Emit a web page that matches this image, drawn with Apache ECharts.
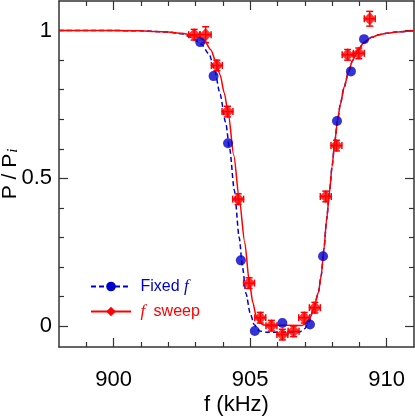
<!DOCTYPE html>
<html><head><meta charset="utf-8">
<script src="https://cdn.jsdelivr.net/npm/echarts@6/dist/echarts.min.js"></script>
<style>html,body{margin:0;padding:0;background:#fff}#c{width:415px;height:418px}</style>
</head><body><div id="c"></div>
<script>
// ---- tick values ----
const xMajorTicks = [900, 905, 910];
const xMinorTicks = [899, 901, 902, 903, 904, 906, 907, 908, 909];
const yMajorTicks = [0, 0.5, 1];
const yMinorTicks = [0.1, 0.2, 0.3, 0.4, 0.6, 0.7, 0.8, 0.9];

// ---- Fixed f data points ----
const fixedF = [903.17, 903.66, 904.19, 904.66, 905.17, 906.18, 907.19, 907.67, 908.18, 908.69, 909.17];
const fixedP = [0.961, 0.846, 0.619, 0.223, -0.016, 0.011, 0.006, 0.237, 0.694, 0.862, 0.971];

// ---- f sweep data points (with error bars) ----
const sweepF = [902.95, 903.37, 903.78, 904.17, 904.56, 904.96, 905.37, 905.78, 906.18, 906.59, 906.98, 907.37, 907.77, 908.16, 908.57, 908.98, 909.38];
const sweepP = [0.986, 0.986, 0.882, 0.726, 0.430, 0.146, 0.029, 0.002, -0.028, -0.017, 0.029, 0.063, 0.439, 0.611, 0.918, 0.923, 1.040];
const sweepFErr = [0.2, 0.2, 0.2, 0.2, 0.2, 0.2, 0.2, 0.2, 0.2, 0.2, 0.2, 0.2, 0.2, 0.2, 0.2, 0.2, 0.2];
const sweepPErr = [0.018, 0.027, 0.018, 0.018, 0.018, 0.018, 0.018, 0.018, 0.018, 0.018, 0.018, 0.018, 0.018, 0.018, 0.018, 0.018, 0.025];

// ---- fit curves ----
const fixedCurveF = [898, 900, 901, 902, 902.5, 902.85, 903.2, 903.5, 903.7, 903.9, 904.1, 904.25, 904.42, 904.6, 904.72, 904.85, 905.0, 905.15, 905.35, 905.6, 906.8, 907.0, 907.15, 907.34, 907.5, 907.6, 907.7, 907.8, 907.9, 908.0, 908.1, 908.2, 908.3, 908.44, 908.6, 908.75, 908.95, 909.17, 909.45, 909.72, 910.0, 910.33, 911];
const fixedCurveP = [1.0, 1.0, 0.999, 0.995, 0.989, 0.977, 0.955, 0.92, 0.865, 0.785, 0.69, 0.6, 0.46, 0.3, 0.2, 0.11, 0.045, 0.005, -0.016, -0.02, -0.02, -0.008, 0.015, 0.065, 0.115, 0.17, 0.26, 0.36, 0.45, 0.54, 0.625, 0.695, 0.75, 0.808, 0.86, 0.899, 0.935, 0.96, 0.977, 0.986, 0.991, 0.995, 1.0];
const sweepCurveF = [898, 900, 901, 901.5, 902, 902.5, 902.9, 903.1, 903.32, 903.56, 903.75, 903.9, 904.05, 904.2, 904.4, 904.6, 904.8, 904.97, 905.1, 905.22, 905.35, 905.5, 906.9, 907.05, 907.2, 907.34, 907.5, 907.6, 907.7, 907.8, 907.9, 908.0, 908.1, 908.2, 908.3, 908.44, 908.6, 908.75, 908.95, 909.17, 909.45, 909.72, 910.0, 910.33, 911];
const sweepCurveP = [1.0, 1.0, 0.999, 0.997, 0.995, 0.991, 0.984, 0.978, 0.967, 0.935, 0.893, 0.85, 0.79, 0.72, 0.578, 0.431, 0.285, 0.15, 0.08, 0.035, 0.012, 0.004, 0.003, 0.01, 0.03, 0.065, 0.115, 0.17, 0.26, 0.36, 0.45, 0.54, 0.625, 0.695, 0.75, 0.808, 0.86, 0.899, 0.935, 0.96, 0.977, 0.986, 0.991, 0.995, 1.0];

const BLUE = '#0000cc', RED = '#ff0000', AX = '#333';
const FONT = 'Liberation Sans';

const chart = echarts.init(document.getElementById('c'), null, {renderer: 'canvas'});

function xAx(pos, ticks, len, showLine, labels) {
  return {
    type: 'value', position: pos, min: 898, max: 911,
    axisLine: {show: showLine, onZero: false, lineStyle: {color: AX, width: 1.5}},
    axisTick: {show: true, inside: true, length: len, customValues: ticks, lineStyle: {color: AX, width: 1.2}},
    axisLabel: labels ? {show: true, customValues: ticks, margin: 22, fontSize: 22, fontFamily: FONT, color: '#000'} : {show: false},
    splitLine: {show: false}
  };
}
function yAx(pos, ticks, len, showLine, labels) {
  return {
    type: 'value', position: pos, min: -0.07, max: 1.1,
    axisLine: {show: showLine, onZero: false, lineStyle: {color: AX, width: 1.5}},
    axisTick: {show: true, inside: true, length: len, customValues: ticks, lineStyle: {color: AX, width: 1.2}},
    axisLabel: labels ? {show: true, customValues: ticks, margin: 7, fontSize: 22, fontFamily: FONT, color: '#000'} : {show: false},
    splitLine: {show: false}
  };
}

const xAxes = [xAx('bottom', xMajorTicks, 9, true, true), xAx('bottom', xMinorTicks, 5, false, false),
               xAx('top', xMajorTicks, 9, true, false), xAx('top', xMinorTicks, 5, false, false)];
xAxes[0].name = 'f (kHz)';
xAxes[0].nameLocation = 'middle';
xAxes[0].nameGap = 47;
xAxes[0].nameMoveOverlap = false;
xAxes[0].nameTextStyle = {fontSize: 22, fontFamily: FONT, color: '#000'};

const yAxes = [yAx('left', yMajorTicks, 9, true, true), yAx('left', yMinorTicks, 5, false, false),
               yAx('right', yMajorTicks, 9, true, false), yAx('right', yMinorTicks, 5, false, false)];
yAxes[0].name = 'P / P{s|i}';
yAxes[0].nameLocation = 'middle';
yAxes[0].nameGap = 38;
yAxes[0].nameMoveOverlap = false;
yAxes[0].nameTextStyle = {fontSize: 21, lineHeight: 22, fontFamily: FONT, color: '#000',
  rich: {s: {fontSize: 15, lineHeight: 6, verticalAlign: 'bottom', fontFamily: 'Liberation Serif', fontStyle: 'italic', color: '#000', padding: [0, 0, 0, 1]}}};

const errData = sweepF.map((f, i) => [f, sweepP[i], sweepFErr[i], sweepPErr[i]]);

chart.setOption({
  animation: false,
  backgroundColor: '#fff',
  grid: {left: 59, right: 1, top: 1, bottom: 71, containLabel: false, outerBoundsMode: 'none'},
  xAxis: xAxes,
  yAxis: yAxes,
  legend: [
    {data: ['Fixed f'], left: 85, top: 273, itemWidth: 40, itemHeight: 12, selectedMode: false,
     formatter: () => ' Fixed {i|f}',
     textStyle: {fontSize: 16, fontFamily: FONT, color: BLUE,
       rich: {i: {fontSize: 17, fontFamily: 'Liberation Serif', fontStyle: 'italic', color: BLUE}}}},
    {data: ['f sweep'], left: 85, top: 298, itemWidth: 40, itemHeight: 12, selectedMode: false,
     formatter: () => ' {i|f} sweep',
     textStyle: {fontSize: 16, fontFamily: FONT, color: RED,
       rich: {i: {fontSize: 17, fontFamily: 'Liberation Serif', fontStyle: 'italic', color: RED, padding: [0, 4, 0, 0]}}}}
  ],
  series: [
    {name: 'Fixed f', type: 'line', xAxisIndex: 0, yAxisIndex: 0,
     data: fixedCurveF.map((f, i) => [f, fixedCurveP[i]]),
     symbol: 'circle', showSymbol: false, smooth: 0.25, smoothMonotone: 'x',
     color: BLUE, lineStyle: {color: BLUE, width: 1.5, type: [5, 3]}, z: 2},
    {name: 'f sweep', type: 'line', xAxisIndex: 0, yAxisIndex: 0,
     data: sweepCurveF.map((f, i) => [f, sweepCurveP[i]]),
     symbol: 'diamond', showSymbol: false, smooth: 0.25, smoothMonotone: 'x',
     color: RED, lineStyle: {color: RED, width: 1.5}, z: 3},
    {name: 'sweepErr', type: 'custom', xAxisIndex: 0, yAxisIndex: 0, data: errData, z: 4,
     renderItem: function (params, api) {
       const x = api.value(0), y = api.value(1), xe = api.value(2), ye = api.value(3);
       const l = api.coord([x - xe, y]), r = api.coord([x + xe, y]);
       const t = api.coord([x, y + ye]), b = api.coord([x, y - ye]);
       const cap = 3.5;
       const st = {stroke: RED, lineWidth: 1.5};
       return {type: 'group', children: [
         {type: 'line', shape: {x1: l[0], y1: l[1], x2: r[0], y2: r[1]}, style: st},
         {type: 'line', shape: {x1: t[0], y1: t[1], x2: b[0], y2: b[1]}, style: st},
         {type: 'line', shape: {x1: l[0], y1: l[1] - cap, x2: l[0], y2: l[1] + cap}, style: st},
         {type: 'line', shape: {x1: r[0], y1: r[1] - cap, x2: r[0], y2: r[1] + cap}, style: st},
         {type: 'line', shape: {x1: t[0] - cap, y1: t[1], x2: t[0] + cap, y2: t[1]}, style: st},
         {type: 'line', shape: {x1: b[0] - cap, y1: b[1], x2: b[0] + cap, y2: b[1]}, style: st}
       ]};
     }},
    {name: 'sweepPts', type: 'scatter', xAxisIndex: 0, yAxisIndex: 0,
     data: sweepF.map((f, i) => [f, sweepP[i]]),
     symbol: 'diamond', symbolSize: [13, 13], itemStyle: {color: RED}, z: 5},
    {name: 'fixedPts', type: 'scatter', xAxisIndex: 0, yAxisIndex: 0,
     data: fixedF.map((f, i) => [f, fixedP[i]]),
     symbol: 'circle', symbolSize: 10, itemStyle: {color: BLUE}, z: 6}
  ]
});
</script>
</body></html>
